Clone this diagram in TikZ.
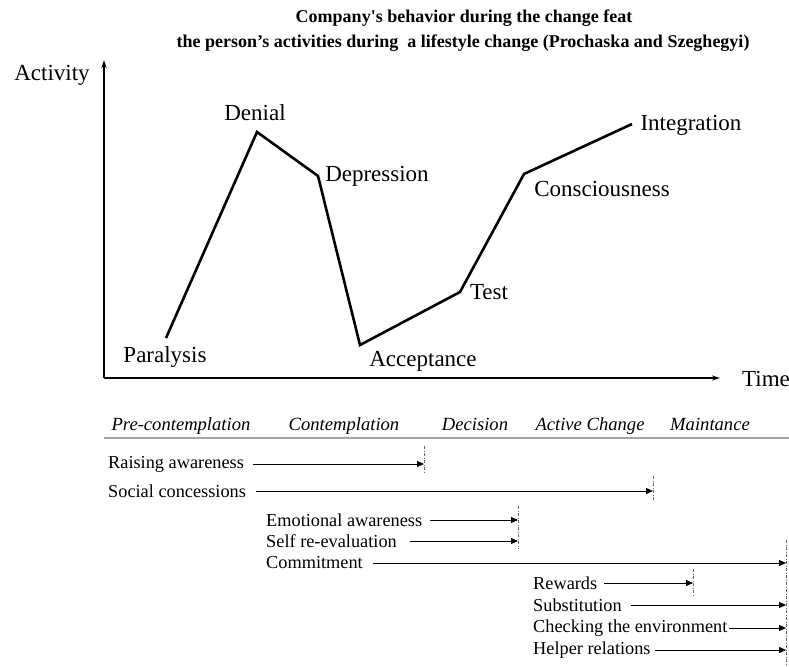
\documentclass[tikz,border=0pt]{standalone}
\usepackage{fontspec}
\setmainfont{Liberation Serif}
\usetikzlibrary{arrows.meta}
\begin{document}
\begin{tikzpicture}[x=1pt,y=-1pt,
  big/.style={font=\fontsize{23}{26}\selectfont, inner sep=0pt},
  stage/.style={font=\fontsize{18.6}{21}\selectfont\itshape, inner sep=0pt, anchor=base},
  row/.style={font=\fontsize{18.3}{21}\selectfont, inner sep=0pt, anchor=west},
  head/.style={font=\fontsize{18}{21}\selectfont\bfseries, inner sep=0pt},
  axis/.style={line width=1.2pt, -{Stealth[length=8pt,width=5pt]}},
  curve/.style={line width=2.6pt, line join=miter},
  flow/.style={line width=1pt, -{Triangle[length=7pt,width=6pt]}},
  limit/.style={gray!80!black, line width=0.8pt, dash pattern=on 3pt off 1.5pt on 1pt off 1.5pt}]
\useasboundingbox (0,0) rectangle (789,666);

% title
\node[head] (t1) at (464,18) {Company\textquotesingle s behavior during the change feat};
\node[head] (t2) at (463,43) {the person’s activities during\ \ a lifestyle change (Prochaska and Szeghegyi)};

% axes
\coordinate (o) at (104,378);
\coordinate (ytop) at (104,60);
\coordinate (xend) at (720,378);
\draw[axis] (o) -- (ytop);
\draw[axis] (o) -- (xend);
\node[big] (ylab) at (52,75) {Activity};
\node[big] (xlab) at (766,379) {Time};

% activity curve
\coordinate (p1) at (166,338);
\coordinate (p2) at (257,132);
\coordinate (p3) at (318,176);
\coordinate (p4) at (360,345);
\coordinate (p5) at (460,292);
\coordinate (p6) at (524,174);
\coordinate (p7) at (632,124);
\draw[curve] (p1) -- (p2) -- (p3) -- (p4) -- (p5) -- (p6) -- (p7);
\node[big] (l1) at (165,357) {Paralysis};
\node[big] (l2) at (255,113) {Denial};
\node[big] (l3) at (377,176) {Depression};
\node[big] (l4) at (423,361) {Acceptance};
\node[big] (l5) at (489,292) {Test};
\node[big] (l6) at (602,189) {Consciousness};
\node[big] (l7) at (691,125) {Integration};

% stages
\node[stage] (s1) at (181,430) {Pre-contemplation};
\node[stage] (s2) at (344,430) {Contemplation};
\node[stage] (s3) at (475,430) {Decision};
\node[stage] (s4) at (590,430) {Active Change};
\node[stage] (s5) at (710,430) {Maintance};
\coordinate (sepl) at (104,438);
\coordinate (sepr) at (789,438);
\draw[gray!70, line width=1.8pt] (sepl) -- (sepr);

% stage limits
\coordinate (d1a) at (424,446); \coordinate (d1b) at (424,473);
\coordinate (d2a) at (653,476); \coordinate (d2b) at (653,501);
\coordinate (d3a) at (518,506); \coordinate (d3b) at (518,549);
\coordinate (d4a) at (786,540); \coordinate (d4b) at (786,666);
\coordinate (d5a) at (693,569); \coordinate (d5b) at (693,595);
\foreach \a/\b in {d1a/d1b,d2a/d2b,d3a/d3b,d4a/d4b,d5a/d5b}
  \draw[limit] (\a) -- (\b);

% processes
\node[row] (r1) at (108,464) {Raising awareness};
\node[row] (r2) at (108,491) {Social concessions};
\node[row] (r3) at (266,520) {Emotional awareness};
\node[row] (r4) at (266,541) {Self re-evaluation};
\node[row] (r5) at (266,563) {Commitment};
\node[row] (r6) at (533,583) {Rewards};
\node[row] (r7) at (533,605) {Substitution};
\node[row] (r8) at (533,628) {Checking the environment};
\node[row] (r9) at (533,650) {Helper relations};

\coordinate (a1s) at (253,464); \coordinate (a1e) at (424,464);
\coordinate (a2s) at (256,491); \coordinate (a2e) at (653,491);
\coordinate (a3s) at (430,520); \coordinate (a3e) at (518,520);
\coordinate (a4s) at (410,541); \coordinate (a4e) at (518,541);
\coordinate (a5s) at (373,563); \coordinate (a5e) at (786,563);
\coordinate (a6s) at (604,583); \coordinate (a6e) at (693,583);
\coordinate (a7s) at (631,605); \coordinate (a7e) at (786,605);
\coordinate (a8s) at (729,628); \coordinate (a8e) at (786,628);
\coordinate (a9s) at (655,650); \coordinate (a9e) at (786,650);
\foreach \i in {1,...,9}
  \draw[flow] (a\i s) -- (a\i e);
\end{tikzpicture}
\end{document}
